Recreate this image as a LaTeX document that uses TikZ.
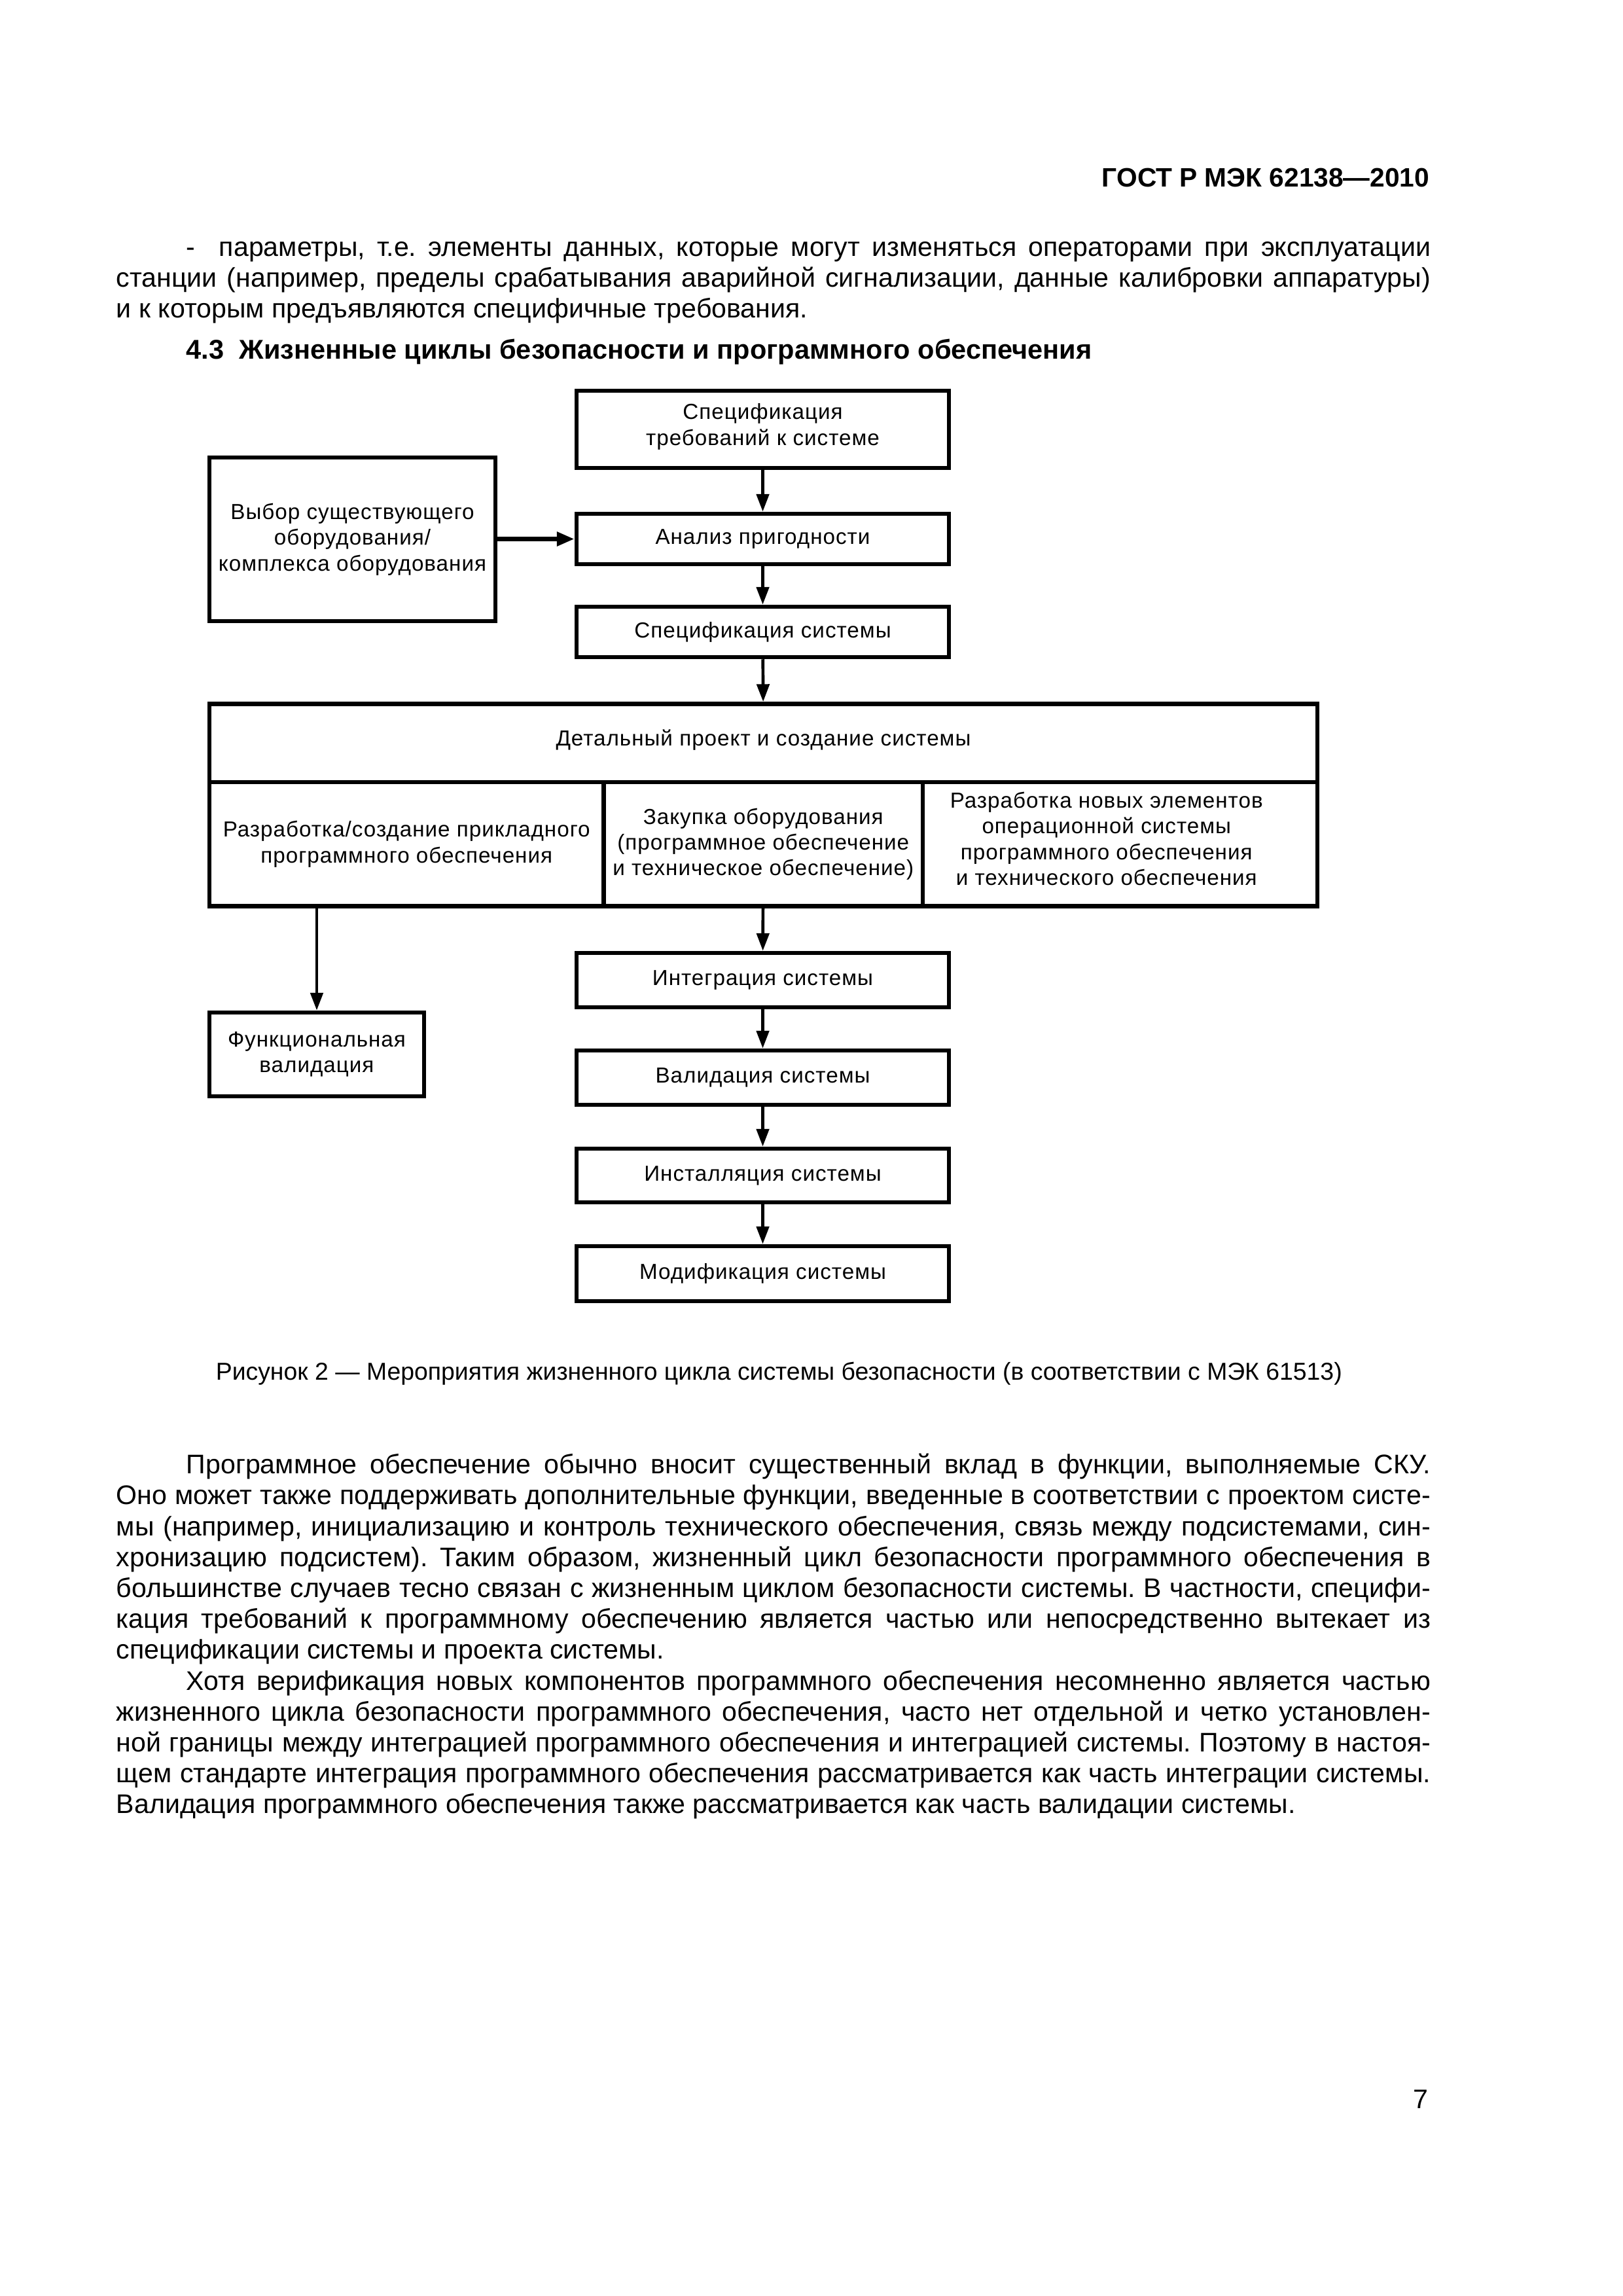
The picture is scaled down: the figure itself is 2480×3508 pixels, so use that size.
\documentclass[tikz,border=0pt]{standalone}
\usepackage{fontspec}
\setmainfont{Liberation Sans}
\newfontfamily\boxfam[LetterSpace=3]{Liberation Sans}
\usetikzlibrary{arrows.meta,fit}
\newlength\pxu
\setlength\pxu{0.0846774mm}
\newcommand\boxfont{\boxfam\fontsize{8.0}{9.5}\selectfont}
\newcommand\bodyfont{\fontsize{9.9}{11.3}\selectfont}
\newcommand\capfont{\fontsize{9.0}{11.3}\selectfont}
\newcommand\headfont{\bfseries\fontsize{10}{11.3}\selectfont}
\newcommand\hdrfont{\bfseries\fontsize{9.8}{11.3}\selectfont}
\newcommand\jline[1]{\makebox[2008\pxu][s]{#1}}
\newcommand\iline[1]{\makebox[1901\pxu][s]{#1}}
\frenchspacing
\begin{document}
\begin{tikzpicture}[x=0.0846774mm, y=-0.0846774mm,
  blk/.style={draw, line width=1.56pt, inner sep=0pt},
  lbl/.style={inner sep=0pt, align=center, font=\boxfont},
  arr/.style={line width=1.13pt, -{Triangle[length=6.5pt,width=4.6pt]}},
  arrthick/.style={line width=1.6pt, -{Triangle[length=6.5pt,width=5pt]}},
  txt/.style={inner sep=0pt, font=\bodyfont},
]
\fill[white] (0,0) rectangle (2480,3508);
\useasboundingbox (0,0) rectangle (2480,3508);

% page header
\node[txt, font=\hdrfont, anchor=base east] (hdr) at (2185,285) {ГОСТ Р МЭК 62138—2010};

% first paragraph
\node[txt, anchor=base west] (a1) at (284,391) {\iline{- \ параметры, т.е. элементы данных, которые могут изменяться операторами при эксплуатации}};
\node[txt, anchor=base west] (a2) at (177,438) {\jline{станции (например, пределы срабатывания аварийной сигнализации, данные калибровки аппаратуры)}};
\node[txt, anchor=base west] (a3) at (177,485) {и к которым предъявляются специфичные требования.};

% section heading
\node[txt, font=\headfont, anchor=base west] (sec) at (284,548) {4.3\ \ Жизненные циклы безопасности и программного обеспечения};

% diagram boxes
\node[blk, fit={(881,597)(1450,715)}] (req) {};
\node[blk, fit={(320,699)(757,949)}] (sel) {};
\node[blk, fit={(881,785)(1450,862)}] (anl) {};
\node[blk, fit={(881,927)(1450,1004)}] (spec) {};
\node[blk, fit={(320,1075.5)(2013,1195)}] (det) {};
\node[blk, fit={(320,1195)(922.5,1384.5)}] (c1) {};
\node[blk, fit={(922.5,1195)(1410,1384.5)}] (c2) {};
\node[blk, fit={(1410,1195)(2013,1384.5)}] (c3) {};
\node[blk, fit={(320,1547)(648,1675)}] (fval) {};
\node[blk, fit={(881,1456)(1450,1539)}] (integ) {};
\node[blk, fit={(881,1605)(1450,1688)}] (valid) {};
\node[blk, fit={(881,1755)(1450,1837)}] (inst) {};
\node[blk, fit={(881,1904)(1450,1988)}] (modif) {};

% box texts
\node[lbl] (reqt) at ([yshift=1pt]req.center) {Спецификация\\требований к системе};
\node[lbl] (selt) at (sel.center) {Выбор существующего\\оборудования/\\комплекса оборудования};
\node[lbl] (anlt) at (anl.center) {Анализ пригодности};
\node[lbl] (spect) at (spec.center) {Спецификация системы};
\node[lbl] (dett) at ([yshift=1pt]det.center) {Детальный проект и создание системы};
\node[lbl] (c1t) at (c1.center) {Разработка/создание прикладного\\программного обеспечения};
\node[lbl] (c2t) at (c2.center) {Закупка оборудования\\(программное обеспечение\\и техническое обеспечение)};
\node[lbl] (c3t) at ([xshift=-5pt,yshift=2pt]c3.center) {Разработка новых элементов\\операционной системы\\программного обеспечения\\и технического обеспечения};
\node[lbl] (fvalt) at (fval.center) {Функциональная\\валидация};
\node[lbl] (integt) at (integ.center) {Интеграция системы};
\node[lbl] (validt) at (valid.center) {Валидация системы};
\node[lbl] (instt) at (inst.center) {Инсталляция системы};
\node[lbl] (modift) at (modif.center) {Модификация системы};

% connectors
\draw[arr] (req) -- (anl);
\draw[arr] (anl) -- (spec);
\draw[arr] (spec) -- (det);
\draw[arrthick] (sel.east |- anl.west) -- (anl.west);
\draw[arr] (fval.north |- c1.south) -- (fval.north);
\draw[arr] (c2) -- (integ);
\draw[arr] (integ) -- (valid);
\draw[arr] (valid) -- (inst);
\draw[arr] (inst) -- (modif);

% caption
\node[txt, font=\capfont, anchor=base west] (cap) at (329,2108) {Рисунок 2 — Мероприятия жизненного цикла системы безопасности (в соответствии с МЭК 61513)};

% body text
\node[txt, anchor=base west] (b1) at (284,2251) {\iline{Программное обеспечение обычно вносит существенный вклад в функции, выполняемые СКУ.}};
\node[txt, anchor=base west] (b2) at (177,2298) {\jline{Оно может также поддерживать дополнительные функции, введенные в соответствии с проектом систе-}};
\node[txt, anchor=base west] (b3) at (177,2346) {\jline{мы (например, инициализацию и контроль технического обеспечения, связь между подсистемами, син-}};
\node[txt, anchor=base west] (b4) at (177,2393) {\jline{хронизацию подсистем). Таким образом, жизненный цикл безопасности программного обеспечения в}};
\node[txt, anchor=base west] (b5) at (177,2440) {\jline{большинстве случаев тесно связан с жизненным циклом безопасности системы. В частности, специфи-}};
\node[txt, anchor=base west] (b6) at (177,2487) {\jline{кация требований к программному обеспечению является частью или непосредственно вытекает из}};
\node[txt, anchor=base west] (b7) at (177,2534) {спецификации системы и проекта системы.};
\node[txt, anchor=base west] (b8) at (284,2582) {\iline{Хотя верификация новых компонентов программного обеспечения несомненно является частью}};
\node[txt, anchor=base west] (b9) at (177,2629) {\jline{жизненного цикла безопасности программного обеспечения, часто нет отдельной и четко установлен-}};
\node[txt, anchor=base west] (b10) at (177,2676) {\jline{ной границы между интеграцией программного обеспечения и интеграцией системы. Поэтому в настоя-}};
\node[txt, anchor=base west] (b11) at (177,2723) {\jline{щем стандарте интеграция программного обеспечения рассматривается как часть интеграции системы.}};
\node[txt, anchor=base west] (b12) at (177,2770) {Валидация программного обеспечения также рассматривается как часть валидации системы.};

% page number
\node[txt, anchor=base east] (pg) at (2183,3221) {7};
\end{tikzpicture}
\end{document}
